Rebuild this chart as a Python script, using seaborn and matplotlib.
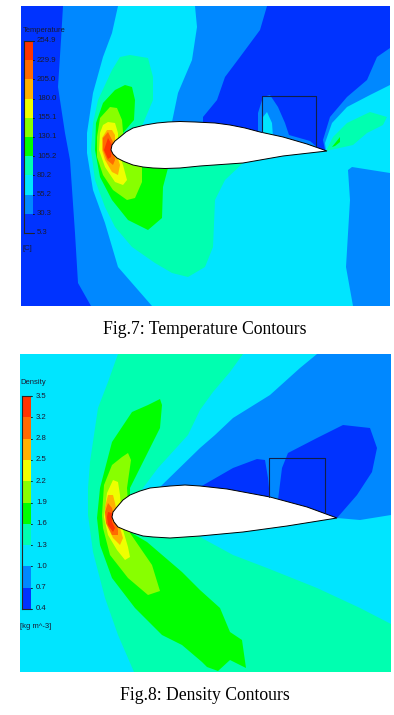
import numpy as np
import seaborn as sns
import matplotlib.pyplot as plt
from matplotlib.colors import ListedColormap

# contour band colours, low to high
band_colors = ['#0033ff', '#0088ff', '#00e5ff', '#00ffb0', '#00ff00',
               '#88ff00', '#eeff00', '#ffb000', '#ff6a00', '#ff3300']

temp_ticks = ['254.9', '229.9', '205.0', '180.0', '155.1', '130.1', '105.2', '80.2', '55.2', '30.3', '5.3']
dens_ticks = ['3.5', '3.2', '2.8', '2.5', '2.2', '1.9', '1.6', '1.3', '1.0', '0.7', '0.4']

# Temperature panel, region outlines (image pixels)
t_frame = [(21, 6), (390, 6), (390, 306), (21, 306)]
t_left_blue = [(21, 6), (63, 6), (61, 40), (58, 87), (65, 133), (70, 160), (75, 233), (78, 283), (91, 306), (21, 306)]
t_top_blue = [(267, 6), (260, 30), (240, 57), (225, 77), (217, 100), (203, 117), (203, 122), (260, 140), (325, 150),
              (323, 140), (330, 117), (347, 97), (367, 80), (377, 57), (390, 48), (390, 6)]
t_bubble_mid = [(258, 136), (258, 113), (263, 97), (270, 95), (278, 107), (285, 123), (289, 135), (310, 141),
                (318, 148), (285, 142)]
t_bubble_cyan = [(263, 136), (263, 117), (267, 112), (272, 123), (273, 137)]
t_cyan = [(118, 6), (112, 33), (103, 57), (93, 93), (87, 133), (87, 153), (93, 190), (105, 223), (118, 267), (152, 306),
          (353, 306), (346, 267), (350, 200), (348, 170), (352, 167), (390, 173), (390, 85), (370, 95), (347, 107),
          (332, 123), (325, 143), (326, 151), (200, 145), (172, 122), (178, 93), (192, 60), (197, 27), (195, 6)]
t_green_cyan = [(130, 55), (148, 58), (153, 77), (153, 100), (142, 126), (200, 145), (243, 163), (225, 180), (215, 200),
                (213, 247), (205, 267), (188, 277), (172, 273), (155, 263), (132, 247), (115, 227), (105, 207), (95, 180),
                (91, 150), (93, 123), (98, 100), (112, 70), (120, 57)]
t_wake_cyan = [(326, 151), (333, 137), (347, 123), (370, 112), (387, 117), (383, 125), (367, 133), (353, 145)]
t_wake_green = [(332, 147), (340, 137), (340, 142), (335, 146)]
t_green = [(125, 85), (132, 87), (135, 100), (134, 120), (123, 133), (142, 167), (168, 168), (163, 187), (162, 218),
           (148, 230), (128, 220), (112, 200), (100, 177), (95, 150), (96, 123), (103, 103), (115, 90)]
t_lime = [(110, 107), (117, 108), (122, 120), (123, 132), (125, 150), (142, 167), (142, 182), (135, 198), (127, 200),
          (113, 190), (103, 175), (97, 157), (97, 137), (100, 118)]
t_yellow = [(108, 122), (115, 123), (118, 133), (118, 150), (123, 165), (127, 180), (123, 185), (115, 182), (105, 167),
            (99, 150), (100, 133), (103, 125)]
t_orange = [(107, 130), (112, 130), (115, 135), (115, 150), (120, 165), (118, 175), (112, 172), (105, 160), (102, 150),
            (102, 138)]
t_dark_orange = [(108, 132), (113, 142), (115, 160), (113, 165), (107, 160), (103, 150), (103, 138)]
t_red = [(108, 138), (112, 145), (111, 157), (108, 159), (104, 150)]
t_airfoil = [(111, 150), (112, 145), (115, 141), (120, 137), (126, 132), (133, 128), (145, 125), (157, 123), (168, 122),
             (180, 121.5), (195, 122), (215, 123), (230, 125), (245, 128), (260, 132), (283, 137), (307, 144), (327, 151),
             (305, 153.5), (283, 156), (243, 163), (200, 166), (180, 168), (165, 168.5), (153, 168), (143, 167),
             (133, 165), (124, 161.5), (117, 158), (113, 154)]
t_box = [(262, 132), (262, 96), (316, 96), (316, 147)]

# Density panel
d_frame = [(20, 354), (391, 354), (391, 672), (20, 672)]
d_mid_blue = [(317, 354), (300, 368), (270, 395), (233, 418), (215, 435), (200, 448), (160, 487), (220, 500), (337, 518),
              (360, 520), (391, 515), (391, 354)]
d_blue_left = [(200, 487), (233, 468), (257, 459), (265, 460), (268, 478), (270, 498), (230, 495)]
d_blue_right = [(278, 500), (282, 468), (288, 453), (317, 438), (343, 425), (370, 428), (377, 448), (372, 472),
                (357, 495), (337, 518), (300, 510)]
d_green_cyan = [(118, 354), (108, 382), (98, 408), (90, 462), (88, 488), (88, 515), (93, 552), (105, 598), (118, 635),
                (134, 672), (391, 672), (391, 624), (360, 608), (317, 588), (267, 568), (233, 555), (200, 537), (140, 510),
                (140, 492), (158, 468), (188, 435), (200, 410), (213, 392), (230, 372), (243, 354)]
d_green = [(160, 399), (162, 405), (160, 428), (145, 458), (130, 488), (130, 532), (147, 542), (182, 572), (200, 590),
           (220, 608), (230, 632), (242, 640), (246, 668), (230, 660), (218, 671), (207, 667), (202, 662), (182, 645),
           (162, 635), (135, 608), (112, 578), (100, 545), (97, 518), (100, 488), (112, 442), (132, 412), (148, 405)]
d_lime = [(128, 453), (131, 460), (127, 488), (130, 533), (152, 565), (160, 591), (148, 595), (128, 578), (110, 555),
          (103, 528), (102, 515), (104, 485), (112, 465), (122, 457)]
d_yellow = [(113, 480), (118, 482), (120, 495), (123, 530), (128, 547), (130, 557), (125, 560), (117, 550), (108, 535),
            (104, 517), (107, 493)]
d_orange = [(108, 495), (113, 495), (115, 503), (120, 528), (123, 538), (120, 545), (113, 538), (106, 523), (105, 507)]
d_dark_orange = [(108, 503), (112, 508), (118, 530), (118, 535), (112, 535), (106, 523), (105, 512)]
d_red = [(108, 512), (112, 513), (112, 522), (115, 528), (113, 532), (108, 525), (107, 517)]
d_airfoil = [(112, 517), (113, 512), (117, 507), (123, 500), (130, 495), (140, 491), (150, 488), (170, 486), (185, 485),
             (200, 486), (227, 489), (270, 497), (307, 507), (337, 518), (287, 526), (243, 532), (200, 536), (170, 538),
             (153, 537), (143, 536), (133, 533), (125, 530), (118, 527), (114, 522)]
d_box = [(269, 497), (269, 458), (325, 458), (325, 512)]

W, H = 394, 715
sns.set_theme(style='white')
plt.rcParams['font.family'] = ['Liberation Sans', 'DejaVu Sans']

fig = plt.figure(figsize=(W / 100, H / 100), dpi=100)
ax = fig.add_axes([0, 0, 1, 1])
ax.set_xlim(0, W)
ax.set_ylim(H, 0)
ax.axis('off')


def fill(poly, level, z):
    xs, ys = zip(*poly)
    ax.fill(xs, ys, color=band_colors[level], lw=0, zorder=z)


# base colour first, then the bands on top of each other
temp_layers = [(t_frame, 1), (t_left_blue, 0), (t_top_blue, 0), (t_bubble_mid, 1), (t_bubble_cyan, 2), (t_cyan, 2),
               (t_green_cyan, 3), (t_wake_cyan, 3), (t_wake_green, 4), (t_green, 4), (t_lime, 5), (t_yellow, 6),
               (t_orange, 7), (t_dark_orange, 8), (t_red, 9)]
dens_layers = [(d_frame, 2), (d_mid_blue, 1), (d_blue_left, 0), (d_blue_right, 0), (d_green_cyan, 3), (d_green, 4),
               (d_lime, 5), (d_yellow, 6), (d_orange, 7), (d_dark_orange, 8), (d_red, 9)]

for layers in (temp_layers, dens_layers):
    for i, (poly, level) in enumerate(layers):
        fill(poly, level, i + 1)

for foil, box in ((t_airfoil, t_box), (d_airfoil, d_box)):
    xs, ys = zip(*foil)
    ax.fill(xs, ys, facecolor='white', edgecolor='black', lw=0.7, zorder=30)
    bx, by = zip(*box)
    ax.plot(bx, by, color='#10204a', lw=0.8, zorder=31)


def legend(x0, y0, x1, y1, title, ticks, unit, title_y, unit_y, label_x):
    # legend bar as a one column heatmap in its own axes
    cax = fig.add_axes([x0 / W, 1 - y1 / H, (x1 - x0) / W, (y1 - y0) / H])
    levels = np.arange(len(band_colors))[::-1].reshape(-1, 1)
    sns.heatmap(levels, ax=cax, cmap=ListedColormap(band_colors), cbar=False, xticklabels=False, yticklabels=False)
    for s in ['top', 'bottom', 'left']:
        cax.spines[s].set_visible(True)
        cax.spines[s].set_linewidth(0.8)
    cax.spines['right'].set_visible(False)
    step = (y1 - y0) / (len(ticks) - 1)
    for i, t in enumerate(ticks):
        y = y0 + i * step
        ax.plot([x1 - 1, x1 + 1.5], [y, y], color='#111111', lw=0.6, zorder=40)
        ax.text(label_x, y, t, fontsize=5.6, color='#1a1a33', va='center', ha='left', zorder=40)
    ax.text(x0 - 1, title_y, title, fontsize=5.5, color='#1a1a33', va='center', ha='left', zorder=40)
    ax.text(x0 - 1, unit_y, unit, fontsize=5.5, color='#1a1a33', va='center', ha='left', zorder=40)


legend(23.5, 41, 33, 233, 'Temperature', temp_ticks, '[C]', 30, 248, 37)
legend(21.5, 396, 31, 609, 'Density', dens_ticks, '[kg m^-3]', 383, 626, 36)

ax.text(205, 329, 'Fig.7: Temperature Contours', family='Liberation Serif', fontsize=12.7, color='black',
        ha='center', va='center')
ax.text(205, 696, 'Fig.8: Density Contours', family='Liberation Serif', fontsize=12.7, color='black',
        ha='center', va='center')

fig.savefig('out.png', dpi=100)
